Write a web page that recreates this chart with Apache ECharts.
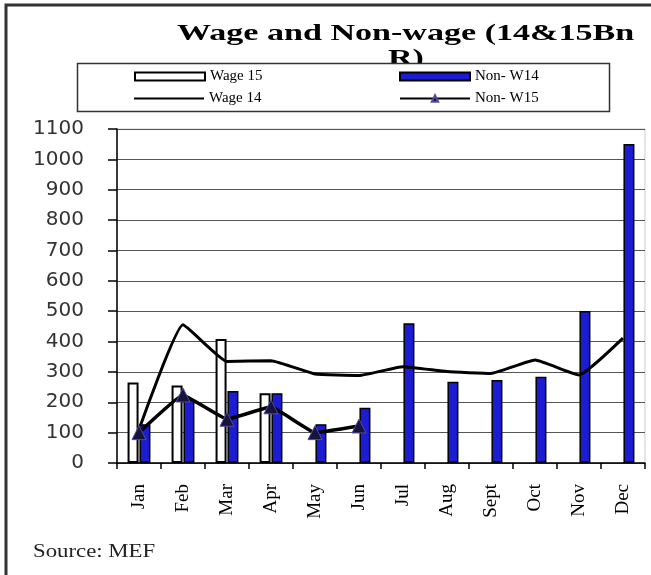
<!DOCTYPE html>
<html><head><meta charset="utf-8">
<script src="https://cdn.jsdelivr.net/npm/echarts@6/dist/echarts.min.js"></script>
<style>html,body{margin:0;padding:0;background:#fff}#c{width:651px;height:575px}</style>
</head><body><div id="c"></div>
<script>
const months = ['Jan','Feb','Mar','Apr','May','Jun','Jul','Aug','Sept','Oct','Nov','Dec'];
const wage15 = [265, 255, 408, 230, null, null, null, null, null, null, null, null];
const nonW14 = [128, 208, 237, 230, 128, 182, 460, 268, 273, 284, 501, 1051];
const wage14 = [110, 455, 334, 337, 293, 288, 317, 301, 295, 339, 290, 411];
const nonW15 = [100, 224, 144, 185, 100, 122, null, null, null, null, null, null];
const yTicks = {min: 0, max: 1100, interval: 100};

const chart = echarts.init(document.getElementById('c'));
const legendText = {fontFamily: 'Liberation Serif', fontSize: 15, color: '#000'};
chart.setOption({
  animation: false,
  graphic: [
    {type: 'rect', z: 0, shape: {x: 6, y: 5, width: 660, height: 600}, style: {fill: 'none', stroke: '#333', lineWidth: 3}},
    {type: 'text', z: 1, x: 177, y: 22, scaleX: 1.42, style: {text: 'Wage and Non-wage (14&15Bn', font: 'bold 24px "Liberation Serif"', fill: '#000'}},
    {type: 'text', z: 1, x: 388, y: 47, scaleX: 1.42, style: {text: 'R)', font: 'bold 24px "Liberation Serif"', fill: '#000'}},
    {type: 'rect', z: 2, shape: {x: 77.5, y: 63.5, width: 532, height: 48}, style: {fill: '#fff', stroke: '#333', lineWidth: 1.5}},
    {type: 'text', z: 1, x: 33, y: 543, scaleX: 1.2, style: {text: 'Source: MEF', font: '19px "Liberation Serif"', fill: '#222'}}
  ],
  legend: [
    {data: [{name: 'Wage 15', icon: 'rect'}], left: 134, top: 69, padding: 0, itemWidth: 70, itemHeight: 8, selectedMode: false, textStyle: legendText, z: 5},
    {data: [{name: 'Non- W14', icon: 'rect'}], left: 399, top: 69, padding: 0, itemWidth: 70, itemHeight: 8, selectedMode: false, textStyle: legendText, z: 5},
    {data: [{name: 'Wage 14', icon: 'rect', itemStyle: {color: '#000', borderWidth: 0}}], left: 134, top: 91, padding: 0, itemWidth: 70, itemHeight: 2, selectedMode: false, textStyle: legendText, z: 5},
    {data: ['Non- W15'], left: 399, top: 91, padding: 0, itemWidth: 70, itemHeight: 8, selectedMode: false, textStyle: legendText, z: 5}
  ],
  grid: {left: 117, right: 6, top: 129, bottom: 112, show: true, borderColor: '#ccc', borderWidth: 1},
  xAxis: {
    type: 'category', data: months,
    axisLine: {lineStyle: {color: '#000', width: 1.5}},
    axisTick: {show: true, length: 6, lineStyle: {color: '#000', width: 1.5}},
    axisLabel: {rotate: 90, margin: 21, fontFamily: 'Liberation Serif', fontSize: 19, color: '#000', interval: 0}
  },
  yAxis: {
    type: 'value', min: yTicks.min, max: yTicks.max, interval: yTicks.interval,
    axisLine: {show: true, lineStyle: {color: '#000', width: 1.5}},
    axisTick: {show: true, length: 9, lineStyle: {color: '#000', width: 1.5}},
    axisLabel: {margin: 33, fontFamily: 'DejaVu Sans', fontSize: 20, color: '#333', formatter: v => String(v)},
    splitLine: {lineStyle: {color: '#555', width: 1.2}}
  },
  series: [
    {name: 'Wage 15', type: 'bar', data: wage15, barWidth: 11, barGap: '8%',
     itemStyle: {color: '#fff', borderColor: '#000', borderWidth: 2}},
    {name: 'Non- W14', type: 'bar', data: nonW14, barWidth: 11, barGap: '8%',
     itemStyle: {color: '#1c1cd2', borderColor: '#000', borderWidth: 1.5}},
    {name: 'Wage 14', type: 'line', data: wage14, smooth: 0.12, symbol: 'none', z: 3,
     lineStyle: {color: '#000', width: 3}, itemStyle: {color: '#000'}},
    {name: 'Non- W15', type: 'line', data: nonW15, smooth: 0.08, symbol: 'triangle', symbolSize: 14, z: 4,
     lineStyle: {color: '#000', width: 3.5},
     itemStyle: {color: '#14143c', borderColor: '#5a4a9a', borderWidth: 1}}
  ]
});
</script></body></html>
